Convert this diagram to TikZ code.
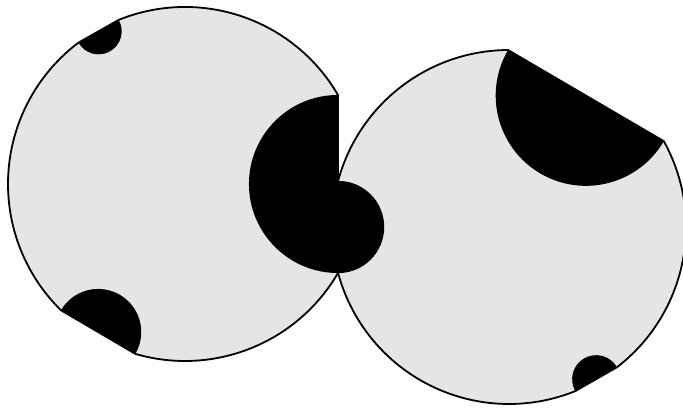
\documentclass[tikz,border=0pt]{standalone}
\usepackage{tikz}
\definecolor{discGray}{RGB}{229,229,229}

\begin{document}
\begin{tikzpicture}[
    x=1pt, y=1pt,
    disc/.style={fill=discGray, draw=black, line width=1.8pt},
    halfdisc/.style={fill=black}
]
\useasboundingbox (0,0) rectangle (683,409);
\coordinate (lc) at (185,225);
\coordinate (rc) at (509,182);

% the two cut discs
\draw[disc] ([shift={(30.2:177)}]lc) arc[start angle=30.2, end angle=112, radius=177]
    -- ([shift={(127:177)}]lc) arc[start angle=127, end angle=225.5, radius=177]
    -- ([shift={(253.7:177)}]lc) arc[start angle=253.7, end angle=329.8, radius=177] -- cycle;
\draw[disc] ([shift={(-52.4:177)}]rc) arc[start angle=-52.4, end angle=29, radius=177]
    -- ([shift={(90.3:177)}]rc) arc[start angle=90.3, end angle=164.9, radius=177]
    -- ([shift={(195.1:177)}]rc) arc[start angle=195.1, end angle=292, radius=177] -- cycle;

% half discs on the chords
\foreach \c/\a/\b in {lc/-30.2/30.2, lc/112/127, lc/225.5/253.7,
                      rc/29/90.3, rc/-68/-52.4, rc/164.9/195.1}
  \fill[halfdisc] ([shift={(\b:177)}]\c) arc[start angle={(\a+\b)/2+90}, delta angle=180,
      radius={177*sin((\b-\a)/2)}] -- cycle;
\end{tikzpicture}
\end{document}
